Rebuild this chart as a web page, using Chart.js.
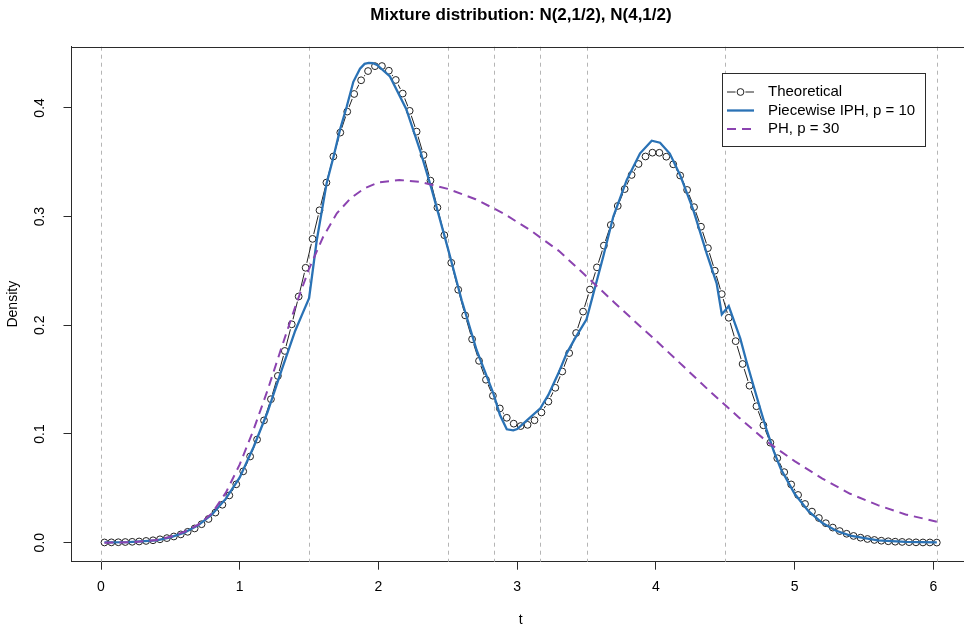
<!DOCTYPE html>
<html>
<head>
<meta charset="utf-8">
<script src="https://cdn.jsdelivr.net/npm/chart.js@4.4.1/dist/chart.umd.min.js"></script>
<style>
  html, body { margin: 0; padding: 0; background: #fff; }
</style>
</head>
<body>
<canvas id="id-chartMixture" width="964" height="628"></canvas>
<script>
var chartTitle = "Mixture distribution: N(2,1/2), N(4,1/2)";
var xAxisLabel = "t";
var yAxisLabel = "Density";
var seriesNames = ["Theoretical", "Piecewise IPH, p = 10", "PH, p = 30"];

// breakpoints shown as dashed grey verticals
var breakpoints = [0, 1.5, 2.5, 2.833, 3.167, 3.5, 4.5, 6.025];

// theoretical density, read on the plotted grid
var theoT = [0.025, 0.075, 0.125, 0.175, 0.225, 0.275, 0.325, 0.375, 0.425, 0.475,
  0.525, 0.575, 0.625, 0.675, 0.725, 0.775, 0.825, 0.875, 0.925, 0.975,
  1.025, 1.075, 1.125, 1.175, 1.225, 1.275, 1.325, 1.375, 1.425, 1.475,
  1.525, 1.575, 1.625, 1.675, 1.725, 1.775, 1.825, 1.875, 1.925, 1.975,
  2.025, 2.075, 2.125, 2.175, 2.225, 2.275, 2.325, 2.375, 2.425, 2.475,
  2.525, 2.575, 2.625, 2.675, 2.725, 2.775, 2.825, 2.875, 2.925, 2.975,
  3.025, 3.075, 3.125, 3.175, 3.225, 3.275, 3.325, 3.375, 3.425, 3.475,
  3.525, 3.575, 3.625, 3.675, 3.725, 3.775, 3.825, 3.875, 3.925, 3.975,
  4.025, 4.075, 4.125, 4.175, 4.225, 4.275, 4.325, 4.375, 4.425, 4.475,
  4.525, 4.575, 4.625, 4.675, 4.725, 4.775, 4.825, 4.875, 4.925, 4.975,
  5.025, 5.075, 5.125, 5.175, 5.225, 5.275, 5.325, 5.375, 5.425, 5.475,
  5.525, 5.575, 5.625, 5.675, 5.725, 5.775, 5.825, 5.875, 5.925, 5.975,
  6.025];
var theoVal = [0.0002, 0.0003, 0.0004, 0.0006, 0.0008, 0.0011, 0.0016, 0.0022, 0.0031, 0.0042,
  0.0057, 0.0076, 0.0100, 0.0131, 0.0170, 0.0218, 0.0277, 0.0349, 0.0435, 0.0537,
  0.0656, 0.0793, 0.0949, 0.1125, 0.1320, 0.1534, 0.1764, 0.2009, 0.2265, 0.2529,
  0.2795, 0.3058, 0.3313, 0.3553, 0.3773, 0.3966, 0.4128, 0.4254, 0.4339, 0.4384,
  0.4385, 0.4342, 0.4257, 0.4132, 0.3973, 0.3782, 0.3566, 0.3331, 0.3083, 0.2829,
  0.2575, 0.2327, 0.2091, 0.1872, 0.1673, 0.1499, 0.1352, 0.1235, 0.1149, 0.1095,
  0.1073, 0.1084, 0.1126, 0.1198, 0.1298, 0.1425, 0.1575, 0.1744, 0.1929, 0.2126,
  0.2329, 0.2533, 0.2733, 0.2923, 0.3098, 0.3253, 0.3383, 0.3484, 0.3553, 0.3588,
  0.3587, 0.3551, 0.3481, 0.3378, 0.3245, 0.3087, 0.2907, 0.2710, 0.2502, 0.2287,
  0.2069, 0.1854, 0.1644, 0.1444, 0.1255, 0.1080, 0.0920, 0.0777, 0.0649, 0.0536,
  0.0439, 0.0356, 0.0286, 0.0227, 0.0179, 0.0139, 0.0107, 0.0082, 0.0062, 0.0046,
  0.0034, 0.0025, 0.0018, 0.0013, 0.0009, 0.0007, 0.0005, 0.0003, 0.0002, 0.0002,
  0.0001];

// piecewise IPH fit (p = 10)
var iphT = [0.025, 0.2, 0.4, 0.5, 0.6, 0.7, 0.8, 0.9, 1.0, 1.1,
  1.2, 1.3, 1.4, 1.45, 1.5, 1.555, 1.627, 1.676, 1.723, 1.771,
  1.819, 1.867, 1.9, 1.93, 1.96, 1.99, 2.083, 2.2, 2.3, 2.384,
  2.5, 2.6, 2.708, 2.828, 2.876, 2.925, 2.972, 3.0, 3.068, 3.167,
  3.225, 3.297, 3.357, 3.417, 3.5, 3.621, 3.693, 3.79, 3.886, 3.97,
  4.03, 4.1, 4.174, 4.27, 4.366, 4.438, 4.475, 4.525, 4.608, 4.65,
  4.7, 4.75, 4.8, 4.85, 4.9, 5.0, 5.1, 5.2, 5.3, 5.4,
  5.6, 5.8, 6.025];
var iphVal = [0.0002, 0.0006, 0.0022, 0.0048, 0.0092, 0.0160, 0.0260, 0.0405, 0.0600, 0.0880,
  0.1200, 0.1580, 0.1950, 0.2100, 0.2250, 0.2780, 0.3310, 0.3550, 0.3800, 0.4010,
  0.4240, 0.4360, 0.4405, 0.4415, 0.4412, 0.4395, 0.4290, 0.3990, 0.3610, 0.3250,
  0.2710, 0.2230, 0.1770, 0.1374, 0.1175, 0.1043, 0.1034, 0.1045, 0.1122, 0.1236,
  0.1359, 0.1558, 0.1742, 0.1880, 0.2055, 0.2635, 0.3000, 0.3337, 0.3582, 0.3698,
  0.3680, 0.3580, 0.3383, 0.3060, 0.2662, 0.2386, 0.2100, 0.2177, 0.1880, 0.1680,
  0.1460, 0.1240, 0.1030, 0.0840, 0.0680, 0.0450, 0.0290, 0.0180, 0.0110, 0.0065,
  0.0022, 0.0007, 0.0002];

// PH fit (p = 30)
var phT = [0.025, 0.2, 0.4, 0.5, 0.6, 0.7, 0.8, 0.9, 1.0, 1.1,
  1.2, 1.3, 1.4, 1.5, 1.6, 1.7, 1.8, 1.9, 2.0, 2.15,
  2.3, 2.5, 2.7, 2.9, 3.1, 3.3, 3.5, 3.7, 3.9, 4.0,
  4.2, 4.4, 4.6, 4.8, 5.0, 5.2, 5.4, 5.6, 5.8, 6.025];
var phVal = [0.0000, 0.0003, 0.0024, 0.0055, 0.0100, 0.0165, 0.0270, 0.0460, 0.0720, 0.1040,
  0.1400, 0.1790, 0.2170, 0.2520, 0.2810, 0.3030, 0.3170, 0.3260, 0.3315, 0.3337,
  0.3320, 0.3255, 0.3160, 0.3030, 0.2870, 0.2685, 0.2450, 0.2210, 0.1975, 0.1860,
  0.1620, 0.1380, 0.1150, 0.0930, 0.0750, 0.0590, 0.0450, 0.0345, 0.0260, 0.0193];

var xTicks = [0, 1, 2, 3, 4, 5, 6];
var yTicks = [0.0, 0.1, 0.2, 0.3, 0.4];

function toPoints(xs, ys) {
  return xs.map(function(x, i) { return {x: x, y: ys[i]}; });
}

var axisColor = "#2b2b2b";
var fontFamily = "'Liberation Sans', Arial, Helvetica, sans-serif";

// ----------------------------- extras: frame, labels, legend -----------------------------
var rPlotExtras = {
  id: "rPlotExtras",
  beforeDatasetsDraw: function(chart) {
    var ctx = chart.ctx, area = chart.chartArea, xs = chart.scales.x;
    ctx.save();
    ctx.strokeStyle = "#b5b5b5";
    ctx.lineWidth = 1;
    ctx.setLineDash([4, 4]);
    breakpoints.forEach(function(b) {
      var px = Math.round(xs.getPixelForValue(b)) + 0.5;
      ctx.beginPath();
      ctx.moveTo(px, area.top);
      ctx.lineTo(px, area.bottom);
      ctx.stroke();
    });
    ctx.restore();
  },
  afterDraw: function(chart) {
    var ctx = chart.ctx, area = chart.chartArea;
    var xs = chart.scales.x, ys = chart.scales.y;
    ctx.save();
    // top of the box
    ctx.strokeStyle = axisColor;
    ctx.lineWidth = 1;
    ctx.beginPath();
    ctx.moveTo(area.left, Math.round(area.top) + 0.5);
    ctx.lineTo(area.right, Math.round(area.top) + 0.5);
    ctx.stroke();

    ctx.fillStyle = "#000";
    // title
    ctx.font = "bold 17px " + fontFamily;
    ctx.textAlign = "center";
    ctx.textBaseline = "middle";
    ctx.fillText(chartTitle, 521, 15);

    // x tick labels
    ctx.font = "14px " + fontFamily;
    xTicks.forEach(function(v) {
      ctx.fillText(String(v), xs.getPixelForValue(v), 587);
    });
    // x axis title
    ctx.fillText(xAxisLabel, xs.getPixelForValue(3.026), 620);

    // y tick labels, rotated like R
    yTicks.forEach(function(v) {
      ctx.save();
      ctx.translate(40, ys.getPixelForValue(v));
      ctx.rotate(-Math.PI / 2);
      ctx.fillText(v.toFixed(1), 0, 0);
      ctx.restore();
    });
    ctx.save();
    ctx.translate(13, (area.top + area.bottom) / 2);
    ctx.rotate(-Math.PI / 2);
    ctx.fillText(yAxisLabel, 0, 0);
    ctx.restore();

    // legend
    var box = {x: 722.5, y: 73.5, w: 203, h: 73};
    ctx.fillStyle = "#fff";
    ctx.fillRect(box.x, box.y, box.w, box.h);
    ctx.strokeStyle = axisColor;
    ctx.lineWidth = 1;
    ctx.setLineDash([]);
    ctx.strokeRect(box.x, box.y, box.w, box.h);
    var rows = [92, 110.5, 129];
    ctx.font = "15px " + fontFamily;
    ctx.textAlign = "left";
    var entries = chart.data.datasets.filter(function(ds) { return ds.inLegend; });
    entries.forEach(function(ds, i) {
      var yy = rows[i];
      ctx.strokeStyle = ds.borderColor;
      ctx.lineWidth = ds.borderWidth;
      ctx.setLineDash(ds.borderDash || []);
      ctx.beginPath();
      ctx.moveTo(727, yy);
      ctx.lineTo(754, yy);
      ctx.stroke();
      if (ds.legendMarker) {
        ctx.setLineDash([]);
        ctx.fillStyle = "#fff";
        ctx.beginPath();
        ctx.arc(740.5, yy, 5, 0, Math.PI * 2);
        ctx.fill();
        ctx.strokeStyle = "#222";
        ctx.lineWidth = 1;
        ctx.beginPath();
        ctx.arc(740.5, yy, 3.4, 0, Math.PI * 2);
        ctx.stroke();
      }
      ctx.fillStyle = "#000";
      ctx.fillText(ds.label, 768, yy);
    });
    ctx.restore();
  }
};

// ----------------------------- chart start -----------------------------
new Chart("id-chartMixture", {
  type: "line",
  data: {
    datasets: [{
      // theoretical: line part of type "b"
      label: seriesNames[0],
      inLegend: true,
      legendMarker: true,
      data: toPoints(theoT, theoVal),
      borderColor: "#222",
      borderWidth: 1,
      pointRadius: 0,
      order: 5
    }, {
      // white gaps around the circles
      label: "gap",
      data: toPoints(theoT, theoVal),
      showLine: false,
      pointRadius: 5.2,
      pointBorderWidth: 0,
      pointBackgroundColor: "#fff",
      pointBorderColor: "#fff",
      order: 4
    }, {
      // open circles
      label: "circles",
      data: toPoints(theoT, theoVal),
      showLine: false,
      pointRadius: 3.4,
      pointBorderWidth: 1,
      pointBorderColor: "#222",
      pointBackgroundColor: "rgba(255,255,255,0)",
      order: 3
    }, {
      label: seriesNames[1],
      inLegend: true,
      data: toPoints(iphT, iphVal),
      borderColor: "#2a72b5",
      borderWidth: 2.3,
      pointRadius: 0,
      order: 2
    }, {
      label: seriesNames[2],
      inLegend: true,
      data: toPoints(phT, phVal),
      borderColor: "#8b43b0",
      borderWidth: 2,
      borderDash: [9, 6],
      pointRadius: 0,
      order: 1
    }]
  },
  options: {
    responsive: false,
    animation: false,
    events: [],
    layout: {autoPadding: false, padding: {top: 46.7, left: 0, right: 0, bottom: 0}},
    plugins: {
      legend: {display: false},
      title: {display: false},
      tooltip: {enabled: false}
    },
    scales: {
      x: {
        type: "linear",
        min: -0.2127,
        max: 6.221,
        afterBuildTicks: function(scale) { scale.ticks = xTicks.map(function(v) { return {value: v}; }); },
        afterFit: function(scale) { scale.height = 66.3; },
        ticks: {display: false},
        grid: {drawOnChartArea: false, drawTicks: true, tickLength: 8, color: axisColor},
        border: {display: true, color: axisColor, width: 1}
      },
      y: {
        type: "linear",
        min: -0.0175,
        max: 0.4563,
        afterBuildTicks: function(scale) { scale.ticks = yTicks.map(function(v) { return {value: v}; }); },
        afterFit: function(scale) { scale.width = 71.5; },
        ticks: {display: false},
        grid: {drawOnChartArea: false, drawTicks: true, tickLength: 8, color: axisColor},
        border: {display: true, color: axisColor, width: 1}
      }
    }
  },
  plugins: [rPlotExtras]
});
// ----------------------------- chart end -----------------------------
</script>
</body>
</html>
